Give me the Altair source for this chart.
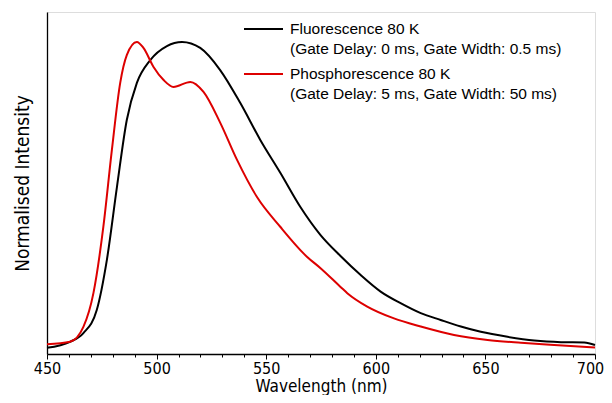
import altair as alt
import pandas as pd

# ---- data ----
wl_fluo = [450, 460.5, 466.6, 472.7, 477.3, 481.9, 486.4, 491.0, 497.1, 504.7, 511.6,
           519.9, 529.0, 538.2, 547.3, 556.5, 565.6, 574.8, 583.9, 593.1, 602.2, 611.3,
           620.5, 629.6, 638.8, 647.9, 660.1, 672.3, 684.5, 695.1, 700]
int_fluo = [0.020, 0.039, 0.067, 0.141, 0.301, 0.535, 0.750, 0.869, 0.942, 0.987, 1.000,
            0.981, 0.910, 0.804, 0.686, 0.580, 0.471, 0.381, 0.314, 0.253, 0.200, 0.163,
            0.131, 0.109, 0.088, 0.071, 0.055, 0.043, 0.038, 0.037, 0.029]

wl_phos = [450, 460.5, 466.6, 471.2, 475.7, 479.6, 483.4, 486.4, 491.0, 494.0, 498.6,
           503.2, 507.7, 515.4, 521.4, 529.1, 536.7, 545.8, 556.5, 568.7, 574.8, 583.9,
           587.0, 596.1, 608.3, 620.5, 635.7, 651.0, 666.2, 681.4, 700]
int_phos = [0.031, 0.039, 0.087, 0.196, 0.407, 0.654, 0.869, 0.958, 1.000, 0.981, 0.920,
            0.878, 0.856, 0.872, 0.840, 0.740, 0.622, 0.503, 0.407, 0.311, 0.275, 0.215,
            0.195, 0.152, 0.114, 0.088, 0.061, 0.045, 0.036, 0.029, 0.021]

series_names = ["Fluorescence 80 K", "Phosphorescence 80 K"]
series_colors = ["#000000", "#dd0000"]
legend_sub = ["(Gate Delay: 0 ms, Gate Width: 0.5 ms)",
              "(Gate Delay: 5 ms, Gate Width: 50 ms)"]
x_ticks = list(range(450, 701, 10))

rows = []
for w, v in zip(wl_fluo, int_fluo):
    rows.append({"wavelength": w, "intensity": v, "series": series_names[0]})
for w, v in zip(wl_phos, int_phos):
    rows.append({"wavelength": w, "intensity": v, "series": series_names[1]})
df = pd.DataFrame(rows)

W, H = 548, 342
axis_font = "DejaVu Sans Condensed"
leg_font = "Liberation Sans"

x_enc = alt.X(
    "wavelength:Q",
    scale=alt.Scale(domain=[450, 700], nice=False),
    axis=alt.Axis(
        values=x_ticks,
        labelExpr="datum.value % 50 === 0 ? datum.label : ''",
        tickSize=alt.condition("datum.value % 50 === 0", alt.value(5), alt.value(3)),
        labelOffset=alt.condition("datum.value === 700", alt.value(-5), alt.value(0)),
        tickColor="black",
        tickWidth=1,
        domainColor="black",
        domainWidth=1.3,
        labelFont=axis_font,
        labelFontSize=16,
        labelColor="black",
        labelFlush=False,
        labelOverlap=False,
        labelPadding=1,
        grid=False,
        title="Wavelength (nm)",
        titleFont=axis_font,
        titleFontSize=17,
        titleFontWeight="normal",
        titleColor="black",
        titlePadding=2,
    ),
)
y_enc = alt.Y(
    "intensity:Q",
    scale=alt.Scale(domain=[0, 1.096], nice=False, zero=False),
    axis=alt.Axis(
        labels=False,
        ticks=False,
        grid=False,
        domainColor="black",
        domainWidth=1.3,
        title="Normalised Intensity",
        titleFont=axis_font,
        titleFontSize=19,
        titleFontWeight="normal",
        titleColor="black",
        titlePadding=15,
    ),
)

lines = alt.Chart(df).mark_line(interpolate="monotone", strokeWidth=2).encode(
    x=x_enc,
    y=y_enc,
    color=alt.Color("series:N", scale=alt.Scale(domain=series_names, range=series_colors), legend=None),
)

leg_df = pd.DataFrame({"series": series_names, "sub": legend_sub})

def legend_entry(i, y0):
    d = leg_df.iloc[[i]]
    rule = alt.Chart(d).mark_rule(strokeWidth=2, color=series_colors[i]).encode(
        x=alt.value(197), x2=alt.value(236), y=alt.value(y0)
    )
    t1 = alt.Chart(d).mark_text(align="left", baseline="middle", font=leg_font,
                                fontSize=15.5, color="black").encode(
        x=alt.value(243), y=alt.value(y0), text="series:N"
    )
    t2 = alt.Chart(d).mark_text(align="left", baseline="middle", font=leg_font,
                                fontSize=15.5, color="black").encode(
        x=alt.value(243), y=alt.value(y0 + 20), text="sub:N"
    )
    return rule + t1 + t2

chart = alt.layer(lines, legend_entry(0, 17), legend_entry(1, 62)).properties(
    width=W, height=H,
    autosize=alt.AutoSizeParams(type="none"),
    padding={"left": 39, "top": 4, "right": 9, "bottom": 41},
).configure_view(stroke="black", strokeWidth=1.3).configure(background="white")

chart.save("out.html", embed_options={"renderer": "svg", "actions": False})
